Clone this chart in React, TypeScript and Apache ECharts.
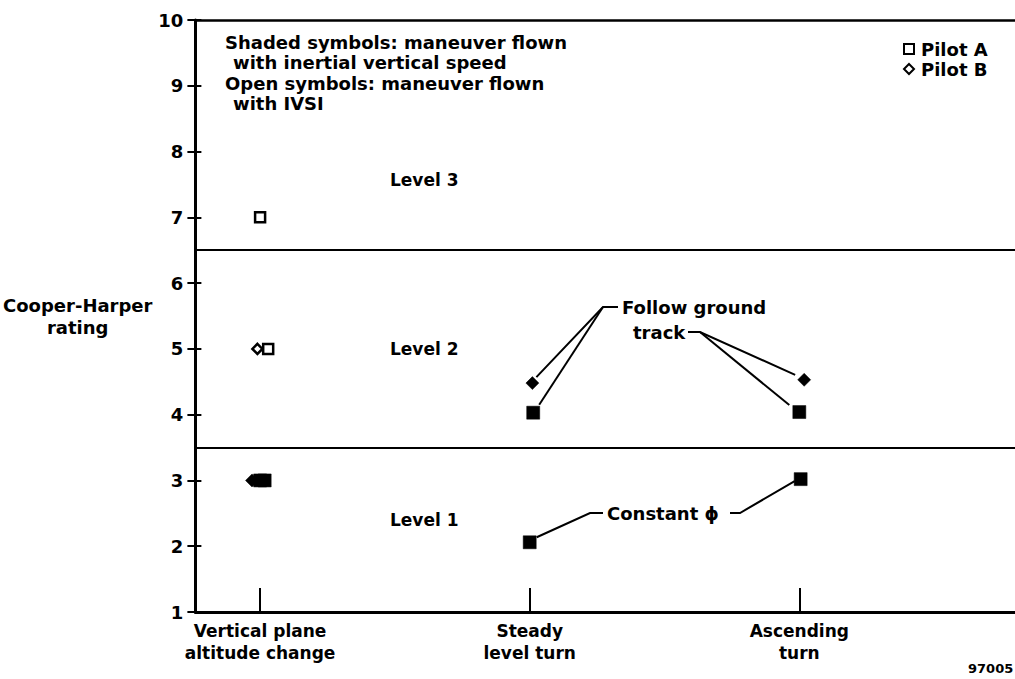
import React, { useEffect, useRef } from "react";
import * as echarts from "echarts";

// Categories on the x axis (positions are the category index)
const categories = ["Vertical plane\naltitude change", "Steady\nlevel turn", "Ascending\nturn"];
const categoryTicks = [0, 1, 2];
const yTickMin = 1;
const yTickMax = 10;

// [category index (+ small offset used in the figure to separate overlapping symbols), Cooper-Harper rating]
const pilotAOpen = [
  [0.0, 7.0],
  [0.03, 5.0],
];
const pilotBOpen = [[-0.01, 5.0]];
const pilotAShaded = [
  [0.0, 3.0],
  [0.017, 3.0],
  [1.013, 4.03],
  [1.0, 2.06],
  [2.0, 4.04],
  [2.005, 3.02],
];
const pilotBShaded = [
  [-0.03, 3.0],
  [1.01, 4.48],
  [2.018, 4.53],
];
// Handling-quality level boundaries
const levelBounds = [6.5, 3.5];

const captionLines = [
  "Shaded symbols: maneuver flown",
  "with inertial vertical speed",
  "Open symbols: maneuver flown",
  "with IVSI",
];
const levelNames = ["Level 3", "Level 2", "Level 1"];

const FONT = "'DejaVu Sans', 'Liberation Sans', sans-serif";

export default function App() {
  const ref = useRef<HTMLDivElement>(null);

  useEffect(() => {
    document.body.style.margin = "0";
    if (!ref.current) return;
    const chart = echarts.init(ref.current, null, { renderer: "svg" });
    const open = { color: "#fff", borderColor: "#000", borderWidth: 2.5, opacity: 1 };
    const shaded = { color: "#000", borderColor: "#000", borderWidth: 0.5, opacity: 1 };

    const yBase = {
      type: "value",
      min: yTickMin,
      max: yTickMax,
      interval: 1,
      position: "left",
      splitLine: { show: false },
    };

    chart.setOption({
      animation: false,
      backgroundColor: "#fff",
      grid: { left: 195, right: 0, top: 20, bottom: 67, containLabel: false },
      xAxis: [
        {
          type: "value",
          min: -0.24,
          max: 2.8,
          position: "bottom",
          splitLine: { show: false },
          axisLine: { show: true, onZero: false, lineStyle: { color: "#000", width: 3 } },
          axisTick: {
            show: true,
            inside: true,
            length: 24,
            customValues: categoryTicks,
            lineStyle: { color: "#000", width: 2 },
          },
          axisLabel: {
            customValues: categoryTicks,
            formatter: (v: number) => categories[Math.round(v)] ?? "",
            color: "#000",
            fontFamily: FONT,
            fontWeight: "bold",
            fontSize: 17,
            lineHeight: 22,
            margin: 8,
          },
        },
        {
          type: "value",
          min: -0.24,
          max: 2.8,
          position: "top",
          splitLine: { show: false },
          axisLine: { show: true, onZero: false, lineStyle: { color: "#000", width: 2.5 } },
          axisTick: { show: false },
          axisLabel: { show: false },
        },
      ],
      yAxis: [
        {
          ...yBase,
          axisLine: { show: true, onZero: false, lineStyle: { color: "#000", width: 3 } },
          axisTick: { show: true, inside: false, length: 8, lineStyle: { color: "#000", width: 2 } },
          axisLabel: {
            color: "#000",
            fontFamily: FONT,
            fontWeight: "bold",
            fontSize: 18,
            margin: 12,
          },
          name: "Cooper-Harper\nrating",
          nameLocation: "middle",
          nameRotate: 0,
          nameGap: 108,
          nameTextStyle: {
            color: "#000",
            fontFamily: FONT,
            fontWeight: "bold",
            fontSize: 18,
            lineHeight: 22,
            align: "center",
            verticalAlign: "middle",
            padding: [0, 0, 8, 0],
          },
        },
        {
          ...yBase,
          axisLine: { show: false, onZero: false },
          axisTick: { show: true, inside: true, length: 6, lineStyle: { color: "#000", width: 2 } },
          axisLabel: { show: false },
        },
      ],
      legend: {
        data: ["Pilot A", "Pilot B"],
        orient: "vertical",
        left: 898,
        top: 35,
        itemWidth: 10,
        itemHeight: 10,
        itemGap: 2,
        textStyle: { color: "#000", fontFamily: FONT, fontWeight: "bold", fontSize: 18, padding: [0, 0, 0, 2] },
      },
      series: [
        {
          name: "Pilot A",
          type: "scatter",
          symbol: "rect",
          symbolSize: 10,
          itemStyle: open,
          data: pilotAOpen,
          z: 4,
          markLine: {
            silent: true,
            symbol: ["none", "none"],
            label: { show: false },
            lineStyle: { color: "#000", width: 2.2, type: "solid", opacity: 1 },
            data: levelBounds.map((v) => ({ yAxis: v })),
          },
        },
        {
          name: "Pilot B",
          type: "scatter",
          symbol: "diamond",
          symbolSize: 10,
          itemStyle: open,
          data: pilotBOpen,
          z: 3,
        },
        {
          name: "Pilot B shaded",
          type: "scatter",
          symbol: "diamond",
          symbolSize: 13,
          itemStyle: shaded,
          data: pilotBShaded,
          z: 3,
        },
        {
          name: "Pilot A shaded",
          type: "scatter",
          symbol: "rect",
          symbolSize: 13,
          itemStyle: shaded,
          data: pilotAShaded,
          z: 4,
        },
      ],
    });

    const px = (p: number[]) => chart.convertToPixel({ gridIndex: 0 }, p) as number[];
    const sd = px(pilotBShaded[1]);
    const ss = px(pilotAShaded[2]);
    const s2 = px(pilotAShaded[3]);
    const ad = px(pilotBShaded[2]);
    const as = px(pilotAShaded[4]);
    const a3 = px(pilotAShaded[5]);

    const lineStyle = { stroke: "#000", lineWidth: 2, fill: null };
    const txt = (text: string, x: number, y: number, size = 18) => ({
      type: "text",
      x,
      y,
      style: {
        text,
        fill: "#000",
        fontFamily: FONT,
        fontWeight: "bold",
        fontSize: size,
        align: "left",
        verticalAlign: "middle",
      },
    });
    const poly = (points: number[][]) => ({ type: "polyline", shape: { points }, style: lineStyle });

    chart.setOption({
      graphic: [
        txt(captionLines[0], 225, 42),
        txt(captionLines[1], 233, 62),
        txt(captionLines[2], 225, 83),
        txt(captionLines[3], 233, 103),
        txt(levelNames[0], 390, 180, 17),
        txt(levelNames[1], 390, 349, 17),
        txt(levelNames[2], 390, 520, 17),
        txt("Follow ground", 622, 307),
        txt("track", 633, 332),
        txt("Constant ϕ", 607, 513),
        txt("97005", 968, 668, 13),
        poly([[618, 307], [603, 307], [sd[0] + 4, sd[1] - 6]]),
        poly([[603, 307], [ss[0] + 6, ss[1] - 8]]),
        poly([[688, 332], [700, 332], [ad[0] - 9, ad[1] - 5]]),
        poly([[700, 332], [as[0] - 10, as[1] - 7]]),
        poly([[s2[0] + 7, s2[1] - 5], [590, 513], [603, 513]]),
        poly([[730, 513], [740, 513], [a3[0] - 6, a3[1] + 2]]),
      ],
    });

    return () => chart.dispose();
  }, []);

  return <div ref={ref} style={{ width: 1015, height: 679 }} />;
}
